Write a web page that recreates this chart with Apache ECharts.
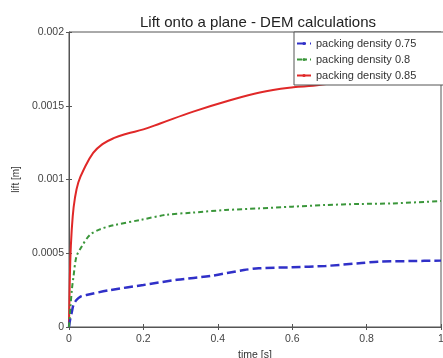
<!DOCTYPE html>
<html><head><meta charset="utf-8">
<script src="https://cdn.jsdelivr.net/npm/echarts@6/dist/echarts.min.js"></script>
<style>html,body{margin:0;padding:0;background:#fff}#c{width:443px;height:358px}</style>
</head><body><div id="c"></div>
<script>
const seriesNames = ['packing density 0.75', 'packing density 0.8', 'packing density 0.85'];
const xTicks = [0, 0.2, 0.4, 0.6, 0.8, 1];
const yTicks = [0, 0.0005, 0.001, 0.0015, 0.002];
const t075 = [0, 0.003, 0.007, 0.012, 0.02, 0.03, 0.047, 0.11, 0.2, 0.29, 0.38, 0.47, 0.51, 0.6, 0.69, 0.78, 0.83, 0.92, 1.0];
const v075 = [0, 0.00005, 0.000095, 0.00015, 0.000183, 0.000205, 0.000217, 0.00025, 0.000285, 0.00032, 0.000346, 0.000386, 0.000398, 0.000405, 0.000414, 0.000432, 0.000443, 0.000447, 0.00045];
const t080 = [0, 0.004, 0.008, 0.012, 0.02, 0.034, 0.056, 0.083, 0.12, 0.19, 0.26, 0.33, 0.42, 0.51, 0.6, 0.69, 0.78, 0.87, 1.0];
const v080 = [0, 0.00014, 0.00026, 0.00034, 0.000477, 0.000545, 0.000624, 0.000662, 0.00069, 0.000725, 0.00076, 0.000775, 0.000793, 0.000804, 0.000816, 0.000827, 0.000834, 0.000838, 0.000854];
const t085 = [0, 0.002, 0.005, 0.01, 0.016, 0.025, 0.04, 0.065, 0.09, 0.12, 0.155, 0.2, 0.245, 0.334, 0.424, 0.513, 0.603, 0.656, 0.7, 0.8, 0.9, 1.0];
const v085 = [0, 0.0003, 0.00055, 0.00075, 0.000875, 0.00098, 0.00107, 0.00118, 0.00124, 0.00128, 0.00131, 0.00134, 0.00138, 0.00146, 0.00153, 0.00159, 0.001625, 0.001635, 0.00165, 0.00168, 0.0017, 0.00172];

const zip = (a, b) => a.map((x, i) => [x, b[i]]);
const chart = echarts.init(document.getElementById('c'));
const font = 'Liberation Sans, Arial, sans-serif';
const fmtY = v => { const s = yTicks.find(t => Math.abs(t - v) < 1e-9); return s === undefined ? '' : String(s); };
const fmtX = v => { const s = xTicks.find(t => Math.abs(t - v) < 1e-9); return s === undefined ? '' : String(s); };
chart.setOption({
  animation: false,
  backgroundColor: '#fff',
  title: { text: 'Lift onto a plane - DEM calculations', left: 253, textAlign: 'center', top: 10,
    textStyle: { fontFamily: font, fontSize: 15, fontWeight: 'normal', color: '#222' } },
  grid: { left: 69, right: 2, top: 32, bottom: 31, show: true, borderColor: '#555', borderWidth: 1,
    outerBoundsMode: 'none', containLabel: false },
  legend: {
    data: seriesNames, orient: 'vertical', left: 294, top: 32, itemGap: 5,
    itemWidth: 14, itemHeight: 4, backgroundColor: '#fff', borderColor: '#555', borderWidth: 1,
    borderRadius: 0, padding: [6, 30, 4, 2], textStyle: { fontFamily: font, fontSize: 11, color: '#333' }
  },
  xAxis: [{
    type: 'value', min: 0, max: 1, interval: 0.2, name: 'time [s]', nameLocation: 'middle', nameGap: 20,
    nameTextStyle: { fontFamily: font, fontSize: 10.5, color: '#333' },
    axisLine: { lineStyle: { color: '#555' } }, axisTick: { inside: true, length: 3, lineStyle: { color: '#555' } },
    axisLabel: { fontFamily: font, fontSize: 10.5, color: '#444', margin: 7, formatter: fmtX }, splitLine: { show: false }
  }, {
    type: 'value', position: 'top', min: 0, max: 1, interval: 0.2,
    axisLine: { show: false }, axisTick: { inside: true, length: 3, lineStyle: { color: '#555' } },
    axisLabel: { show: false }, splitLine: { show: false }
  }],
  yAxis: [{
    type: 'value', min: 0, max: 0.002, interval: 0.0005, name: 'lift [m]', nameLocation: 'middle', nameGap: 31,
    nameTextStyle: { fontFamily: font, fontSize: 10, color: '#333' },
    axisLine: { show: true, lineStyle: { color: '#555' } }, axisTick: { show: true, inside: true, length: 3, lineStyle: { color: '#555' } },
    axisLabel: { fontFamily: font, fontSize: 10.5, color: '#444', margin: 5, formatter: fmtY }, splitLine: { show: false }
  }, {
    type: 'value', position: 'right', min: 0, max: 0.002, interval: 0.0005,
    axisLine: { show: false }, axisTick: { show: true, inside: true, length: 3, lineStyle: { color: '#555' } },
    axisLabel: { show: false }, splitLine: { show: false }
  }],
  series: [
    { name: seriesNames[0], type: 'line', data: zip(t075, v075), symbol: 'none', smooth: 0.3, z: 3,
      lineStyle: { color: '#3030c8', width: 2.5, type: [9, 4] }, itemStyle: { color: '#3030c8' } },
    { name: seriesNames[1], type: 'line', data: zip(t080, v080), symbol: 'none', smooth: 0.3, z: 3,
      lineStyle: { color: '#3a963a', width: 2, type: [5, 3, 2, 3] }, itemStyle: { color: '#3a963a' } },
    { name: seriesNames[2], type: 'line', data: zip(t085, v085), symbol: 'none', smooth: 0.4, z: 2,
      lineStyle: { color: '#e02828', width: 2 }, itemStyle: { color: '#e02828' } }
  ]
});
</script></body></html>
